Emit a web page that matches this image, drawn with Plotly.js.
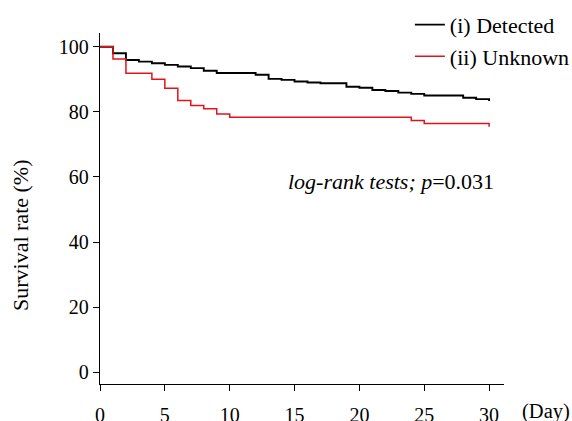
<!DOCTYPE html>
<html>
<head>
<meta charset="utf-8">
<script src="https://cdn.plot.ly/plotly-3.0.1.min.js"></script>
<style>html,body{margin:0;padding:0;background:#fff;}#chart{width:572px;height:421px;}</style>
</head>
<body>
<div id="chart"></div>
<script>
// Survival curves (Kaplan-Meier style steps)
var detectedDays = [0, 1, 2, 3, 4, 5, 6, 7, 8, 9, 12, 13, 14, 15, 16, 17, 19, 20, 21, 22, 23, 24, 25, 28, 29, 30];
var detectedRate = [100, 98.0, 95.9, 95.4, 94.9, 94.4, 93.9, 93.4, 92.6, 91.9, 91.4, 90.1, 89.8, 89.3, 89.0, 88.75, 87.7, 87.4, 86.7, 86.4, 85.9, 85.5, 85.0, 84.3, 83.9, 83.3];
var unknownDays = [0, 1, 2, 4, 5, 6, 7, 8, 9, 10, 24, 25, 30];
var unknownRate = [100, 96.2, 91.8, 90.0, 87.2, 83.5, 81.9, 80.9, 79.3, 78.3, 77.3, 76.4, 75.4];
var seriesNames = ['(i) Detected', '(ii) Unknown'];
var xTicks = [0, 5, 10, 15, 20, 25, 30];
var yTicks = [0, 20, 40, 60, 80, 100];
var xUnit = '(Day)';
var yTitle = 'Survival rate (%)';
var statText = '<i>log-rank tests; p</i>=0.031';

var serif = "Liberation Serif";

var traces = [
  {x: detectedDays, y: detectedRate, type: 'scatter', mode: 'lines', name: seriesNames[0],
   line: {shape: 'hv', color: '#000000', width: 1.9}, legendgroup: 'a'},
  {x: unknownDays, y: unknownRate, type: 'scatter', mode: 'lines', name: seriesNames[1],
   line: {shape: 'hv', color: '#e3131b', width: 1.5}, legendgroup: 'b'}
];

var layout = {
  width: 572, height: 421,
  margin: {l: 100, r: 68, t: 33, b: 37, autoexpand: false},
  paper_bgcolor: '#fff', plot_bgcolor: '#fff',
  font: {family: serif, size: 20, color: '#000'},
  showlegend: true,
  legend: {x: 0.767, y: 1.083, xanchor: 'left', yanchor: 'top',
           font: {family: serif, size: 22, color: '#000'},
           traceorder: 'grouped', tracegroupgap: 0, bgcolor: 'rgba(0,0,0,0)', itemwidth: 30},
  xaxis: {range: [0, 31.15], tickvals: xTicks, ticktext: xTicks.map(String),
          showgrid: false, zeroline: false, showline: true, linecolor: '#000', linewidth: 1.3,
          ticks: 'outside', ticklen: 6, tickwidth: 1, tickcolor: '#000',
          ticklabelstandoff: 7, tickfont: {family: serif, size: 20, color: '#000'}},
  yaxis: {range: [-3.6, 104.2], tickvals: yTicks, ticktext: yTicks.map(String),
          showgrid: false, zeroline: false, showline: true, linecolor: '#000', linewidth: 1.3,
          ticks: 'outside', ticklen: 6, tickwidth: 1, tickcolor: '#000',
          tickfont: {family: serif, size: 20, color: '#000'}},
  annotations: [
    {x: -0.198, y: 0.4245, xref: 'paper', yref: 'paper', text: yTitle, showarrow: false, textangle: -90,
     xanchor: 'center', yanchor: 'middle', font: {family: serif, size: 22, color: '#000'}},
    {x: 22.44, y: 58.5, xref: 'x', yref: 'y', text: statText, showarrow: false,
     xanchor: 'center', yanchor: 'middle', font: {family: serif, size: 22, color: '#000'}},
    {x: 1.04, y: -0.079, xref: 'paper', yref: 'paper', text: xUnit, showarrow: false,
     xanchor: 'left', yanchor: 'middle', font: {family: serif, size: 20.5, color: '#000'}}
  ]
};

Plotly.newPlot('chart', traces, layout, {displayModeBar: false, staticPlot: true});
</script>
</body>
</html>
